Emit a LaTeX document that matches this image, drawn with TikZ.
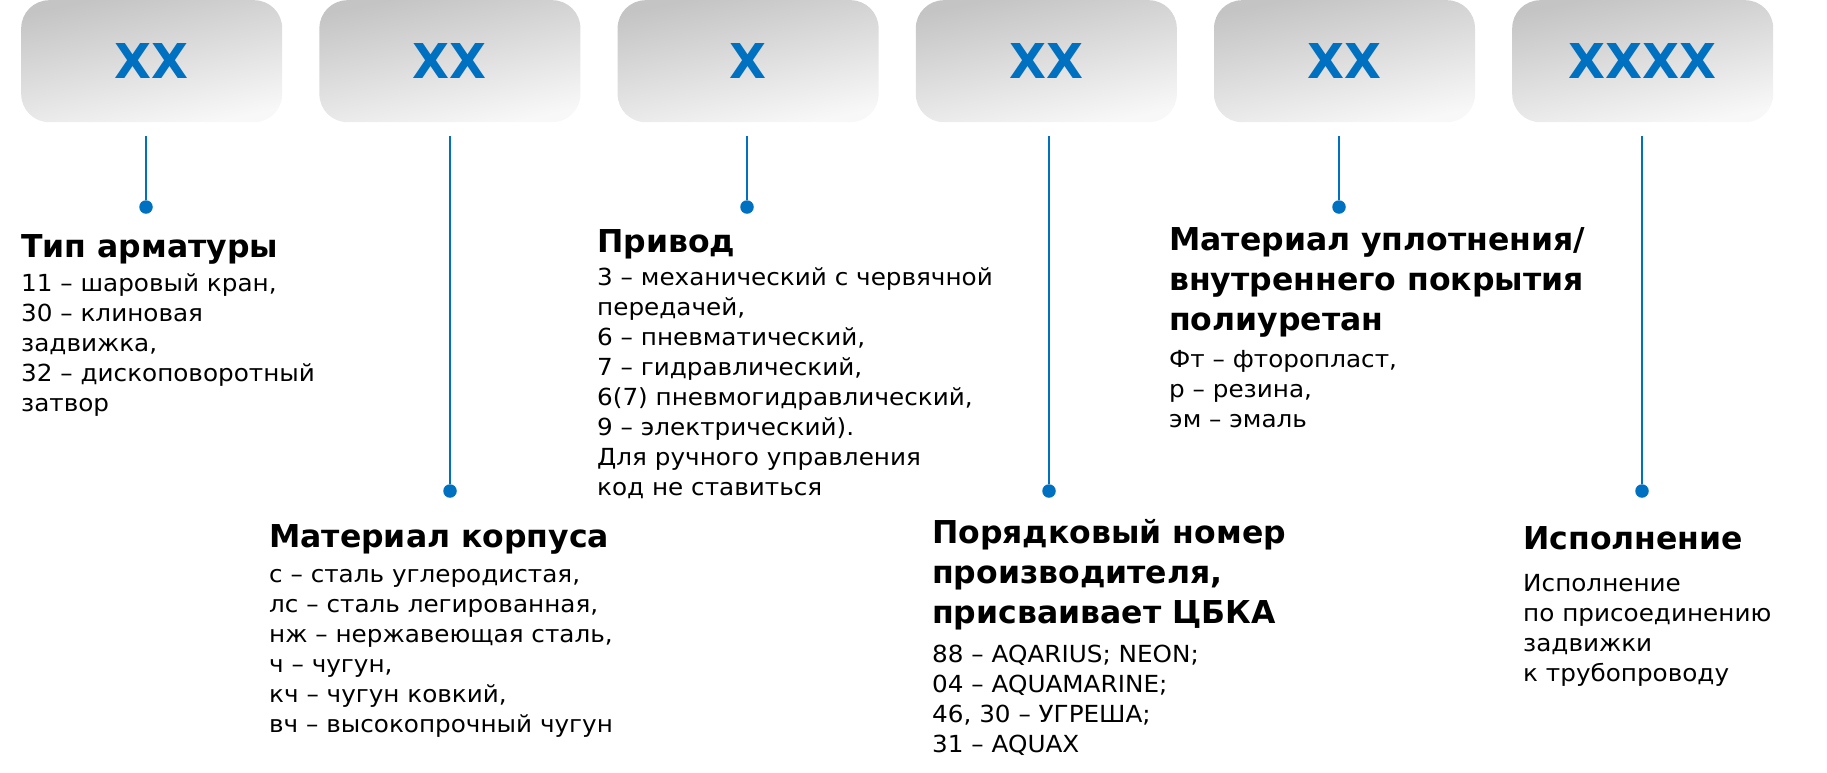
\documentclass[tikz,border=0pt]{standalone}
\usepackage{fontspec}
\usepackage{tikz}
\setmainfont{DejaVu Sans}
\newfontfamily\bodyfam[FakeStretch=1.05]{DejaVu Sans}
\newfontfamily\headfam[FakeStretch=1.0]{DejaVu Sans}
\newcommand\bodyfont{\bodyfam\fontsize{23.5}{30}\selectfont}
\newcommand\headfont{\headfam\bfseries\fontsize{31.5}{40}\selectfont}
\newcommand\xxfont{\headfam\bfseries\fontsize{48}{50}\selectfont}
\definecolor{codeblue}{HTML}{0070C0}
\definecolor{boxtop}{HTML}{C4C4C4}
\definecolor{boxbot}{HTML}{F8F8F8}

\begin{document}
\begin{tikzpicture}[x=1pt,y=-1pt,
		codebox/.style={rounded corners=28pt,top color=boxtop,bottom color=boxbot,
			shading angle=12,minimum width=261pt,minimum height=122pt,
			anchor=north west,inner sep=0pt,font=\xxfont,text=codeblue},
		dot/.style={circle,fill=codeblue,inner sep=0pt,minimum size=13.5pt},
		lead/.style={draw=codeblue,line width=1.3pt,shorten >=14pt},
		head/.style={anchor=north west,inner sep=0pt,align=left,font=\headfont,
			execute at begin node=\strut},
		body/.style={anchor=north west,inner sep=0pt,align=left,font=\bodyfont,
			execute at begin node=\strut}]
	\useasboundingbox (0,0) rectangle (1827,772);
	% code boxes
	\node[codebox] (b1) at (21,0) {XX};
	\node[codebox] (b2) at (319.2,0) {XX};
	\node[codebox] (b3) at (617.4,0) {X};
	\node[codebox] (b4) at (915.6,0) {XX};
	\node[codebox] (b5) at (1213.8,0) {XX};
	\node[codebox] (b6) at (1512,0) {XXXX};
	% dots
	\node[dot] (d1) at (146,207) {};
	\node[dot] (d2) at (450,491) {};
	\node[dot] (d3) at (747,207) {};
	\node[dot] (d4) at (1049,491) {};
	\node[dot] (d5) at (1339,207) {};
	\node[dot] (d6) at (1642,491) {};
	% leader lines
	\draw[lead] (d1) -- (d1 |- b1.south);
	\draw[lead] (d2) -- (d2 |- b2.south);
	\draw[lead] (d3) -- (d3 |- b3.south);
	\draw[lead] (d4) -- (d4 |- b4.south);
	\draw[lead] (d5) -- (d5 |- b5.south);
	\draw[lead] (d6) -- (d6 |- b6.south);
	% upper row of texts
	\node[head] (h1) at (21,229) {Тип арматуры};
	\node[body] (t1) at (21,273) {11 – шаровый кран,\\30 – клиновая\\задвижка,\\32 – дископоворотный\\затвор};
	\node[head] (h3) at (597,224) {Привод};
	\node[body] (t3) at (597,267) {3 – механический с червячной\\передачей,\\6 – пневматический,\\7 – гидравлический,\\6(7) пневмогидравлический,\\9 – электрический).\\Для ручного управления\\код не ставиться};
	\node[head] (h5) at (1169,227) {Материал уплотнения/\\внутреннего покрытия\\полиуретан};
	\node[body] (t5) at (1169,350) {Фт – фторопласт,\\р – резина,\\эм – эмаль};
	% lower row of texts
	\node[head] (h2) at (269,519) {Материал корпуса};
	\node[body] (t2) at (269,569) {с – сталь углеродистая,\\лс – сталь легированная,\\нж – нержавеющая сталь,\\ч – чугун,\\кч – чугун ковкий,\\вч – высокопрочный чугун};
	\node[head] (h4) at (932,519) {Порядковый номер\\производителя,\\присваивает ЦБКА};
	\node[body] (t4) at (932,645) {88 – AQARIUS; NEON;\\04 – AQUAMARINE;\\46, 30 – УГРЕША;\\31 – AQUAX};
	\node[head] (h6) at (1523,521) {Исполнение};
	\node[body] (t6) at (1523,574) {Исполнение\\по присоединению\\задвижки\\к трубопроводу};
\end{tikzpicture}
\end{document}
